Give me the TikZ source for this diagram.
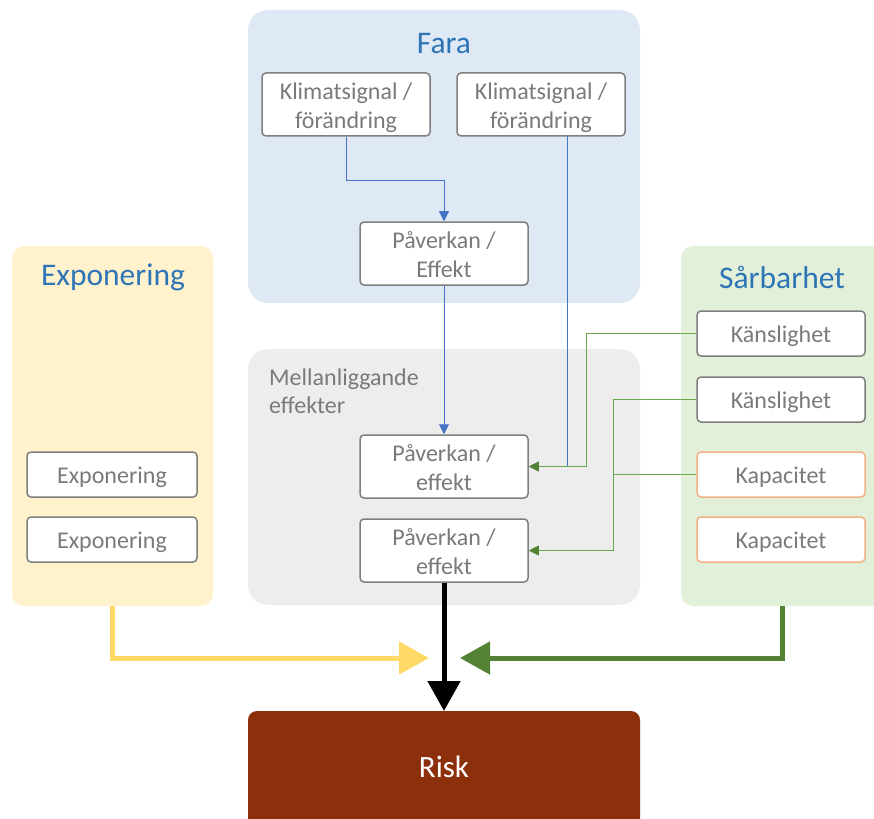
\documentclass[tikz,border=0pt]{standalone}
\usepackage{fontspec}
\setmainfont{Carlito}
\usetikzlibrary{arrows.meta}
\definecolor{farabg}{HTML}{DEE9F5}
\definecolor{mellbg}{HTML}{EDEDED}
\definecolor{expobg}{HTML}{FFF2CC}
\definecolor{sarbbg}{HTML}{E2F0D9}
\definecolor{riskc}{HTML}{8C300C}
\definecolor{yelc}{HTML}{FFD966}
\definecolor{dgreen}{HTML}{548235}
\definecolor{lgreen}{HTML}{6AA84F}
\definecolor{bluec}{HTML}{4472C4}
\definecolor{boxborder}{HTML}{7F7F7F}
\definecolor{boxtext}{HTML}{7A7A7A}
\definecolor{orangec}{HTML}{F4B183}
\definecolor{titlec}{HTML}{2E75B6}
\newcommand{\boxtxt}[1]{\raisebox{-3.5pt}[\height][\depth]{\begin{tabular}{@{}c@{}}#1\end{tabular}}}
\tikzset{
  panel/.style={inner sep=0pt, outer sep=0pt, rounded corners=20pt, draw=none},
  ptitle/.style={text=titlec, font=\fontsize{31.5}{36}\selectfont, inner sep=0pt},
  bigbox/.style={draw=boxborder, fill=white, line width=1.5pt, rounded corners=4pt,
     minimum width=168pt, minimum height=63pt, inner sep=0pt,
     text=boxtext, font=\fontsize{24}{29}\selectfont},
  smallbox/.style={draw=boxborder, fill=white, line width=1.5pt, rounded corners=4pt,
     minimum width=168pt, minimum height=45pt, inner sep=0pt,
     text=boxtext, font=\fontsize{24}{29}\selectfont},
  orangebox/.style={smallbox, draw=orangec},
  bluearrow/.style={draw=bluec, line width=0.9pt, -{Triangle[length=10pt,width=10pt]}},
  greenarrow/.style={draw=lgreen, line width=0.9pt, -{Triangle[length=10pt,width=10pt,color=dgreen]}},
  greenline/.style={draw=lgreen, line width=0.9pt},
  thickarrow/.style={line width=5pt, -{Triangle[length=30pt,width=32pt]}},
}
\begin{document}
\begin{tikzpicture}[x=1pt,y=-1pt]
\useasboundingbox (0,0) rectangle (874,818);
\clip (0,0) rectangle (874,818);

% panels
\node[panel, fill=farabg, minimum width=392pt, minimum height=293pt] (fara) at (444,156.5) {};
\node[panel, fill=mellbg, minimum width=392pt, minimum height=256pt] (mell) at (444,477) {};
\node[panel, fill=expobg, minimum width=201pt, minimum height=360pt, rounded corners=12pt] (expo) at (112.5,426) {};
\node[panel, fill=sarbbg, minimum width=202pt, minimum height=360pt, rounded corners=12pt] (sarb) at (782,426) {};
\node[panel, fill=riskc, minimum width=392pt, minimum height=116pt, rounded corners=9pt] (risk) at (444,769) {};
\node[text=white, font=\fontsize{31}{36}\selectfont, inner sep=0pt] (riskT) at (444,767) {Risk};

% titles
\node[ptitle] (faraT) at (444,44) {Fara};
\node[ptitle] (expoT) at (113,277.5) {Exponering};
\node[ptitle] (sarbT) at (782,277.5) {Sårbarhet};
\node[anchor=west, align=left, text=boxtext, font=\fontsize{24}{28}\selectfont, inner sep=0pt] (mellT) at (269,391) {Mellanliggande\\effekter};

% boxes
\node[bigbox] (k1) at (346,104.5) {\boxtxt{Klimatsignal /\\förändring}};
\node[bigbox] (k2) at (541,104.5) {\boxtxt{Klimatsignal /\\förändring}};
\node[bigbox] (pe) at (444,253.5) {\boxtxt{Påverkan /\\Effekt}};
\node[bigbox] (m1) at (444,466.5) {\boxtxt{Påverkan /\\effekt}};
\node[bigbox] (m2) at (444,550.5) {\boxtxt{Påverkan /\\effekt}};
\node[smallbox, minimum width=170pt] (e1) at (112,474.5) {\boxtxt{Exponering}};
\node[smallbox, minimum width=170pt] (e2) at (112,539.5) {\boxtxt{Exponering}};
\node[smallbox] (s1) at (781,333.5) {\boxtxt{Känslighet}};
\node[smallbox] (s2) at (781,399.5) {\boxtxt{Känslighet}};
\node[orangebox] (c1) at (781,474.5) {\boxtxt{Kapacitet}};
\node[orangebox] (c2) at (781,539.5) {\boxtxt{Kapacitet}};

% thin connectors
\coordinate (b1) at (346,180);
\draw[bluearrow] (k1.south) -- (b1) -| (pe.north);
\draw[bluearrow] (pe.south) -- (m1.north);
\coordinate (k2d) at (567,136);
\coordinate (bj) at (567,466.5);
\draw[bluec, line width=0.9pt] (k2d) -- (bj);
\coordinate (g1) at (586,333.5);
\draw[greenarrow] (s1.west) -- (g1) |- (m1.east);
\coordinate (g2) at (613,399.5);
\draw[greenarrow] (s2.west) -- (g2) |- (m2.east);
\coordinate (g3) at (613,474.5);
\draw[greenline] (c1.west) -- (g3);

% thick arrows
\coordinate (yt) at (429,658);
\coordinate (gt) at (460,658);
\draw[thickarrow, draw=yelc] (expo.south) |- (yt);
\draw[thickarrow, draw=dgreen] (sarb.south) |- (gt);
\draw[thickarrow, draw=black] (m2.south) -- (risk.north);
\end{tikzpicture}
\end{document}
